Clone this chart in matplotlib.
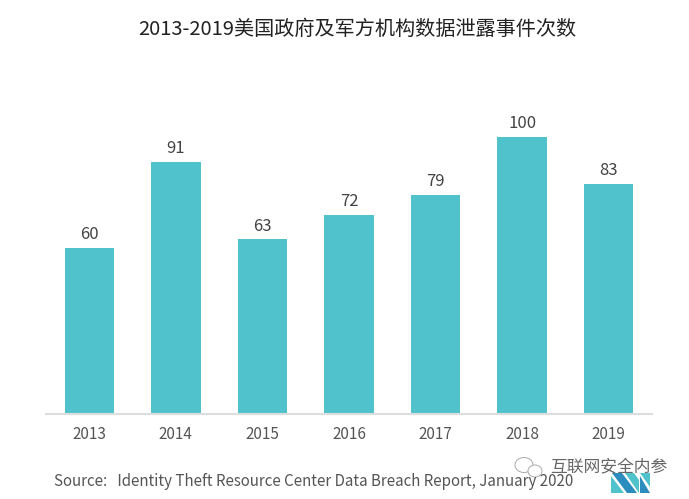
import matplotlib
matplotlib.use("Agg")
import matplotlib.pyplot as plt
from matplotlib.patches import Polygon, Ellipse

plt.rcParams['font.family'] = ['Noto Sans CJK SC', 'DejaVu Sans']

years = ['2013', '2014', '2015', '2016', '2017', '2018', '2019']
counts = [60, 91, 63, 72, 79, 100, 83]
title = '2013-2019美国政府及军方机构数据泄露事件次数'
source = 'Source:   Identity Theft Resource Center Data Breach Report, January 2020'
watermark = '互联网安全内参'

W, H = 689, 499
fig = plt.figure(figsize=(W/100, H/100), dpi=100, facecolor='white')
ax = fig.add_axes([46/W, 1-414/H, (652-46)/W, (414-137)/H])
x = list(range(len(years)))
ax.bar(x, counts, width=0.57, color='#50C2CB')
ax.set_xlim(-0.5, 6.5)
ax.set_ylim(0, 100)
for s in ['top', 'left', 'right']:
    ax.spines[s].set_visible(False)
ax.spines['bottom'].set_color('#DDDDDD')
ax.spines['bottom'].set_linewidth(1.5)
ax.set_yticks([])
ax.set_xticks(x, years)
ax.tick_params(axis='x', length=0, pad=8.5, labelsize=11, labelcolor='#555555')
for xi, c in zip(x, counts):
    ax.annotate(str(c), (xi, c), xytext=(0, 3.5), textcoords='offset points', ha='center', va='bottom',
                fontsize=12, color='#444444', annotation_clip=False)
fig.text(357/W, 1-29/H, title, ha='center', va='center', fontsize=14.5, color='#222222')
fig.text(54/W, 1-482/H, source, ha='left', va='center', fontsize=10.85, color='#555555')


def px(points):
    return [(a/W, 1-b/H) for a, b in points]


# small publisher logo, bottom right
for pts, col in [
    ([(611, 493), (611, 476), (624, 493)], '#50C2CB'),
    ([(612, 473), (622, 473), (637, 493), (627, 493)], '#2B8CBE'),
    ([(625, 473), (634, 473), (639, 480), (639, 493)], '#50C2CB'),
    ([(640, 493), (640, 476), (650, 493)], '#2B8CBE'),
    ([(640, 473), (650, 473), (650, 487)], '#50C2CB'),
]:
    fig.add_artist(Polygon(px(pts), closed=True, transform=fig.transFigure, facecolor=col, edgecolor='none'))

# watermark: chat-bubble icon and account name
for cx, cy, w, h in [(524, 465, 18, 15), (535, 471, 14, 12)]:
    fig.add_artist(Ellipse((cx/W, 1-cy/H), w/W, h/H, transform=fig.transFigure,
                           facecolor='white', edgecolor='#AAAAAA', linewidth=0.7))
fig.text(550/W, 1-468/H, watermark, ha='left', va='center', fontsize=12.1, color='#666666')
fig.savefig('out.png', dpi=100)
